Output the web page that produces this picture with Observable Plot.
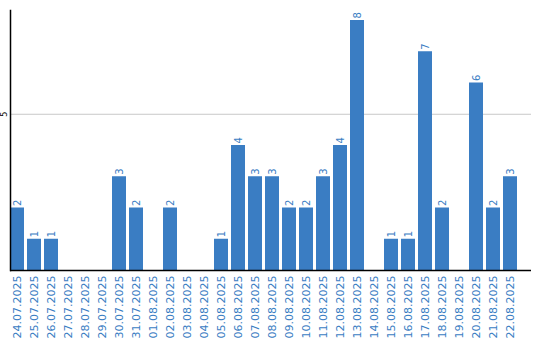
<!DOCTYPE html>
<html><head><meta charset="utf-8">
<script src="https://cdn.jsdelivr.net/npm/d3@7"></script>
<script src="https://cdn.jsdelivr.net/npm/@observablehq/plot@0.6"></script>
<style>body{margin:0;background:#fff}</style>
</head><body><div id="chart"></div>
<script>
const dates = ["24.07.2025","25.07.2025","26.07.2025","27.07.2025","28.07.2025","29.07.2025","30.07.2025","31.07.2025","01.08.2025","02.08.2025","03.08.2025","04.08.2025","05.08.2025","06.08.2025","07.08.2025","08.08.2025","09.08.2025","10.08.2025","11.08.2025","12.08.2025","13.08.2025","14.08.2025","15.08.2025","16.08.2025","17.08.2025","18.08.2025","19.08.2025","20.08.2025","21.08.2025","22.08.2025"];
const counts = [2,1,1,0,0,0,3,2,0,2,0,0,1,4,3,3,2,2,3,4,8,0,1,1,7,2,0,6,2,3];
const yTicks = [5];
const data = dates.map((d,i)=>({date:d, value:counts[i]}));
const blue = "#3a7dc3";
const chart = Plot.plot({
  width: 540, height: 340,
  marginLeft: 10, marginRight: 22, marginTop: 10, marginBottom: 70,
  style: {fontFamily: "DejaVu Sans", background: "#fff", overflow: "visible"},
  x: {domain: dates, paddingInner: 0.176, paddingOuter: 0, align: 0, axis: null},
  y: {domain: [0, 8.32], axis: null},
  marks: [
    Plot.ruleY(yTicks, {stroke: "#c8c8c8", strokeWidth: 1, insetRight: -13}),
    Plot.barY(data.filter(d=>d.value>0), {x: "date", y: "value", fill: blue}),
    Plot.text(data.filter(d=>d.value>0), {x: "date", y: "value", text: d=>String(d.value), rotate: -90, textAnchor: "start", dy: -2, fill: blue, fontSize: 10}),
    Plot.text(dates, {x: d=>d, y: 0, text: d=>d, rotate: -90, textAnchor: "end", dy: 5, fill: blue, fontSize: 11}),
    Plot.text(yTicks, {frameAnchor: "left", dx: -6, y: d=>d, text: d=>String(d), rotate: -90, textAnchor: "middle", fill: "#000", fontSize: 8}),
    Plot.ruleY([0], {stroke: "#000", strokeWidth: 1.5, insetRight: -13}),
    Plot.frame({anchor: "left", stroke: "#000", strokeWidth: 1.5})
  ]
});
document.getElementById("chart").appendChild(chart);
</script></body></html>
